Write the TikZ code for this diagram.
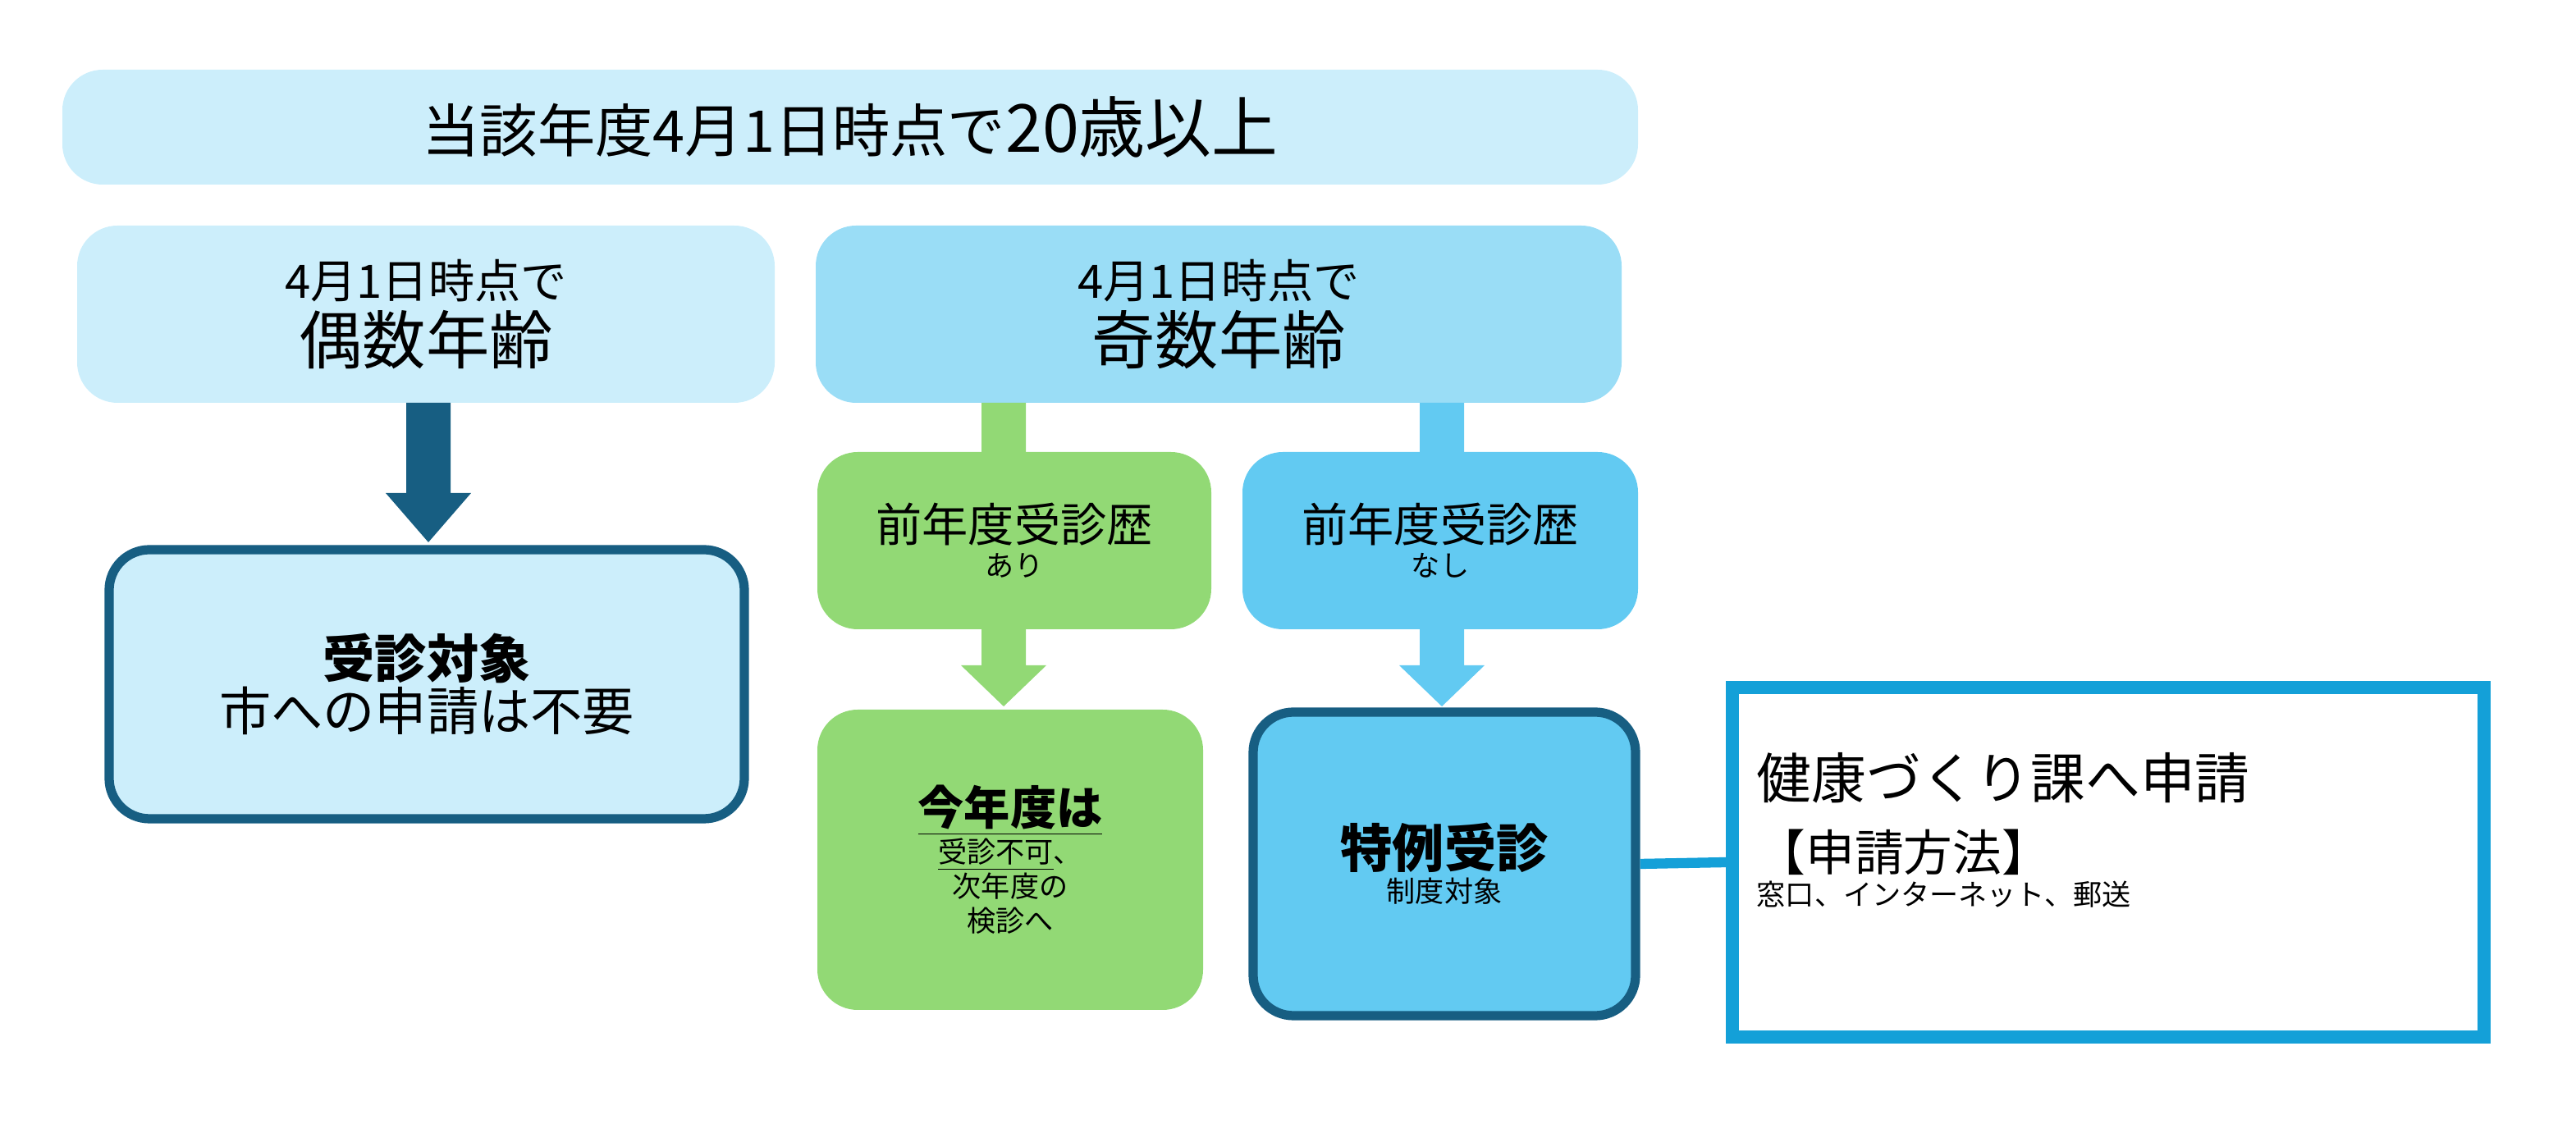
\documentclass[tikz,border=0pt]{standalone}
\usepackage{fontspec}
\setmainfont{Noto Sans CJK JP}
\usetikzlibrary{calc}
\definecolor{paleblue}{HTML}{CCEEFB}
\definecolor{midblue}{HTML}{9ADDF6}
\definecolor{skyblue}{HTML}{62CAF2}
\definecolor{darkblue}{HTML}{175E82}
\definecolor{leafgreen}{HTML}{92D975}
\definecolor{lineblue}{HTML}{14A0D8}
\tikzset{
  box/.style={rounded corners=14pt, inner sep=0pt, align=center},
  tip/.style={fill=#1, draw=none}
}
\newcommand{\blockarrow}[5]{% x, ytop, ybase, ytip, colour
  \fill[#5] ({#1-13.5},#2) -- ({#1+13.5},#2) -- ({#1+13.5},#3) -- ({#1+26},#3)
    -- (#1,#4) -- ({#1-26},#3) -- ({#1-13.5},#3) -- cycle;}
\begin{document}
\begin{tikzpicture}[x=0.02cm,y=0.02cm]
\useasboundingbox (0,0) rectangle (1569.5,690.5);
% upper row
\node[box, fill=paleblue, minimum width=960*0.02cm, minimum height=70*0.02cm] (top) at (518,613)
  {\fontsize{20pt}{24pt}\selectfont 当該年度4月1日時点で\fontsize{23pt}{24pt}\selectfont 20歳以上};
\node[box, fill=paleblue, minimum width=425*0.02cm, minimum height=108*0.02cm] (even) at (259.5,499)
  {\fontsize{16pt}{20pt}\selectfont 4月1日時点で\\[2pt]\fontsize{22pt}{26pt}\selectfont 偶数年齢};
\node[box, fill=midblue, minimum width=491*0.02cm, minimum height=108*0.02cm] (odd) at (742.5,499)
  {\fontsize{16pt}{20pt}\selectfont 4月1日時点で\\[2pt]\fontsize{22pt}{26pt}\selectfont 奇数年齢};
% even branch
\blockarrow{261}{445}{390}{360}{darkblue}
\node[box, fill=paleblue, draw=darkblue, line width=3.2pt, minimum width=387*0.02cm, minimum height=164*0.02cm] (free) at (260,273.5)
  {\fontsize{18pt}{26pt}\selectfont\bfseries 受診対象\\\fontsize{18pt}{26pt}\selectfont 市への申請は不要};
% odd branch
\blockarrow{611.5}{445}{285}{260}{leafgreen}
\blockarrow{878.5}{445}{285}{260}{skyblue}
\node[box, fill=leafgreen, minimum width=240*0.02cm, minimum height=108*0.02cm] (had) at (618,361)
  {\fontsize{16pt}{24pt}\selectfont 前年度受診歴\\あり};
\node[box, fill=skyblue, minimum width=241*0.02cm, minimum height=108*0.02cm] (none) at (877.5,361)
  {\fontsize{16pt}{24pt}\selectfont 前年度受診歴\\なし};
\node[box, fill=leafgreen, minimum width=235*0.02cm, minimum height=183*0.02cm] (next) at (615.5,166.5)
  {\fontsize{16pt}{24pt}\selectfont\bfseries\underline{今年度は}\\\underline{受診不可}\mdseries 、\\次年度の\\検診へ};
\node[box, fill=skyblue, draw=darkblue, line width=3.2pt, minimum width=233*0.02cm, minimum height=185*0.02cm] (special) at (880,164)
  {\fontsize{18pt}{30pt}\selectfont\bfseries 特例受診\\制度対象};
\node[draw=lineblue, line width=4.5pt, fill=white, minimum width=458*0.02cm, minimum height=213*0.02cm, inner sep=0pt] (apply) at (1284.5,165) {};
\node[anchor=north west, align=left, inner sep=0pt] (applytxt) at (1070,232)
  {\fontsize{19pt}{28pt}\selectfont 健康づくり課へ申請\\[8pt]
   \fontsize{17pt}{26pt}\selectfont 【申請方法】\\窓口、インターネット、郵送};
\draw[lineblue, line width=3.5pt] (special.east) -- (apply.west);
\end{tikzpicture}
\end{document}
